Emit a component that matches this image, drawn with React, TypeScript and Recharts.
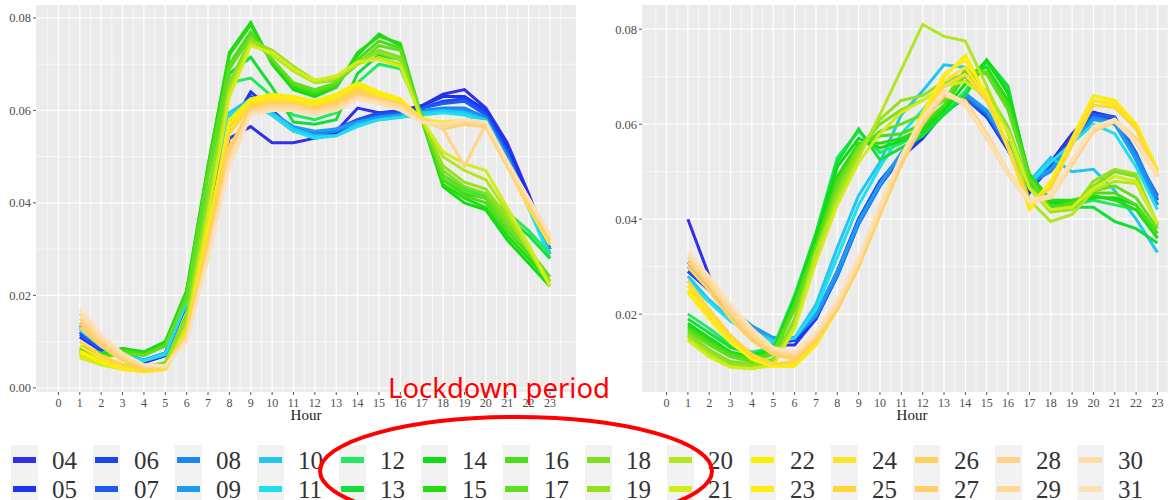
import React from 'react';
import { LineChart, Line, XAxis, YAxis, CartesianGrid } from 'recharts';

const DAYS = ['04','05','06','07','08','09','10','11','12','13','14','15','16','17','18','19','20','21','22','23','24','25','26','27','28','29','30','31'];
const COLORS = ['#3030e6','#1a34f0','#1a45f0','#1f5af0','#1e86f0','#1e9cf0','#22c6f0','#20def0','#22e862','#14de3a','#10dc12','#26dc10','#4cdc1c','#62de1e','#80e020','#94e21e','#b2e620','#d2ec1c','#f8f000','#ffec10','#ffe22c','#ffd838','#ffd060','#ffcf6e','#ffd488','#ffd894','#fddca8','#fde0b4'];
const HOURS = [1,2,3,4,5,6,7,8,9,10,11,12,13,14,15,16,17,18,19,20,21,22,23];
const HOUR_TICKS = [0,1,2,3,4,5,6,7,8,9,10,11,12,13,14,15,16,17,18,19,20,21,22,23];
const Y_TICKS_LEFT = [0, 0.02, 0.04, 0.06, 0.08];
const Y_TICKS_RIGHT = [0.02, 0.04, 0.06, 0.08];

// Left panel
const L04 = [0.011,0.008,0.007,0.0055,0.007,0.018,0.038,0.054,0.0565,0.053,0.053,0.054,0.0555,0.0605,0.0595,0.060,0.061,0.0635,0.0645,0.0605,0.053,0.042,0.030];
const L05 = [0.012,0.0085,0.007,0.0055,0.007,0.019,0.040,0.056,0.064,0.060,0.056,0.054,0.055,0.058,0.059,0.0595,0.061,0.063,0.063,0.060,0.052,0.041,0.030];
const L06 = [0.013,0.009,0.007,0.006,0.0075,0.019,0.041,0.058,0.063,0.059,0.0555,0.0545,0.0555,0.058,0.0595,0.0595,0.0605,0.062,0.0625,0.0595,0.051,0.040,0.029];
const L07 = [0.0115,0.0085,0.0068,0.0058,0.0072,0.0185,0.040,0.057,0.0625,0.0595,0.056,0.055,0.056,0.058,0.059,0.0595,0.0605,0.0615,0.062,0.059,0.051,0.040,0.030];
const L08 = [0.014,0.010,0.0075,0.006,0.0075,0.019,0.042,0.059,0.0615,0.059,0.056,0.055,0.0555,0.0575,0.0585,0.059,0.060,0.0605,0.0605,0.0585,0.050,0.040,0.030];
const L09 = [0.0135,0.0095,0.0072,0.006,0.0075,0.0185,0.041,0.058,0.062,0.0595,0.0565,0.0555,0.056,0.0575,0.0585,0.059,0.0595,0.060,0.060,0.058,0.050,0.040,0.029];
const L10 = [0.013,0.0095,0.0072,0.006,0.0075,0.019,0.042,0.0595,0.0625,0.0595,0.056,0.0545,0.0545,0.057,0.058,0.0585,0.0595,0.060,0.0595,0.058,0.049,0.039,0.029];
const L11 = [0.0125,0.009,0.007,0.0058,0.0072,0.0185,0.041,0.059,0.0615,0.059,0.0555,0.054,0.0545,0.0565,0.058,0.0585,0.059,0.0595,0.059,0.0575,0.049,0.039,0.028];
const L12 = [0.009,0.0075,0.0085,0.0075,0.0095,0.020,0.046,0.066,0.067,0.063,0.059,0.058,0.0595,0.066,0.070,0.069,0.059,0.046,0.043,0.0415,0.038,0.034,0.029];
const L13 = [0.0085,0.0072,0.0085,0.0075,0.0095,0.0205,0.047,0.068,0.0715,0.065,0.0575,0.057,0.058,0.068,0.072,0.071,0.058,0.045,0.042,0.041,0.037,0.033,0.028];
const L14 = [0.008,0.007,0.0085,0.0078,0.010,0.021,0.048,0.0725,0.079,0.070,0.0645,0.063,0.065,0.072,0.0765,0.074,0.058,0.0435,0.040,0.0385,0.032,0.027,0.022];
const L15 = [0.0082,0.007,0.0083,0.0075,0.0095,0.021,0.048,0.072,0.0785,0.0705,0.065,0.0635,0.065,0.0725,0.076,0.0745,0.0585,0.044,0.041,0.039,0.033,0.028,0.023];
const L16 = [0.0078,0.0068,0.008,0.0072,0.0092,0.020,0.047,0.070,0.077,0.071,0.0655,0.064,0.0655,0.071,0.075,0.0735,0.058,0.045,0.0415,0.040,0.034,0.029,0.023];
const L17 = [0.0075,0.0065,0.0075,0.007,0.009,0.0195,0.046,0.069,0.076,0.071,0.066,0.0645,0.066,0.070,0.074,0.073,0.0585,0.046,0.0425,0.041,0.035,0.030,0.024];
const L18 = [0.0075,0.006,0.005,0.0045,0.0055,0.016,0.042,0.066,0.0755,0.0725,0.069,0.066,0.0665,0.0705,0.073,0.0715,0.0585,0.047,0.0435,0.042,0.036,0.030,0.023];
const L19 = [0.007,0.0058,0.0048,0.0042,0.005,0.015,0.040,0.065,0.075,0.073,0.0695,0.0665,0.067,0.0705,0.0725,0.071,0.058,0.048,0.0445,0.043,0.037,0.030,0.023];
const L20 = [0.0068,0.0052,0.0042,0.0038,0.0045,0.0135,0.038,0.064,0.0745,0.072,0.0685,0.066,0.067,0.070,0.0715,0.070,0.058,0.050,0.047,0.045,0.038,0.030,0.022];
const L21 = [0.0065,0.005,0.004,0.0035,0.004,0.013,0.037,0.063,0.074,0.0725,0.069,0.0665,0.0675,0.0705,0.071,0.0695,0.058,0.051,0.0485,0.047,0.039,0.031,0.022];
const L22 = [0.0075,0.0055,0.004,0.0035,0.004,0.012,0.034,0.058,0.0625,0.0635,0.063,0.062,0.0635,0.066,0.064,0.0625,0.058,0.0575,0.058,0.057,0.048,0.040,0.031];
const L23 = [0.008,0.0058,0.0042,0.0035,0.004,0.0115,0.033,0.057,0.062,0.063,0.0625,0.0615,0.063,0.0655,0.0635,0.062,0.0585,0.057,0.0575,0.0565,0.048,0.040,0.031];
const L24 = [0.009,0.0065,0.0045,0.0035,0.0042,0.012,0.033,0.056,0.0615,0.0625,0.062,0.061,0.0625,0.065,0.063,0.0615,0.058,0.057,0.0575,0.057,0.048,0.039,0.031];
const L25 = [0.010,0.007,0.005,0.0038,0.0042,0.0115,0.032,0.055,0.061,0.062,0.0615,0.0605,0.062,0.0645,0.0625,0.061,0.0575,0.0565,0.057,0.0565,0.048,0.040,0.032];
const L26 = [0.013,0.009,0.006,0.0042,0.0045,0.011,0.030,0.052,0.0605,0.0615,0.0615,0.0605,0.0615,0.064,0.0625,0.061,0.058,0.0565,0.0575,0.057,0.048,0.040,0.032];
const L27 = [0.014,0.0095,0.0065,0.0045,0.0045,0.011,0.030,0.051,0.060,0.061,0.061,0.060,0.061,0.0635,0.0625,0.0615,0.058,0.056,0.057,0.0565,0.048,0.040,0.032];
const L28 = [0.015,0.010,0.0068,0.0045,0.0045,0.0105,0.029,0.050,0.060,0.061,0.061,0.060,0.061,0.063,0.062,0.061,0.058,0.056,0.048,0.057,0.048,0.040,0.033];
const L29 = [0.016,0.0105,0.007,0.0048,0.0045,0.0105,0.029,0.049,0.0595,0.0605,0.0605,0.0595,0.0605,0.063,0.062,0.061,0.0575,0.0565,0.0575,0.057,0.049,0.041,0.033];
const L30 = [0.016,0.011,0.0072,0.005,0.0048,0.0105,0.028,0.049,0.0595,0.060,0.060,0.0595,0.060,0.0625,0.0615,0.0605,0.0575,0.057,0.058,0.0575,0.049,0.041,0.033];
const L31 = [0.017,0.0115,0.0075,0.005,0.0048,0.010,0.028,0.048,0.059,0.060,0.060,0.059,0.060,0.0625,0.0615,0.060,0.0575,0.057,0.058,0.0575,0.049,0.041,0.033];

// Right panel
const R04 = [0.040,0.028,0.020,0.016,0.0135,0.0135,0.019,0.029,0.040,0.048,0.053,0.057,0.0625,0.066,0.0625,0.055,0.0455,0.052,0.058,0.0625,0.061,0.053,0.044];
const R05 = [0.031,0.026,0.021,0.017,0.014,0.0145,0.019,0.028,0.039,0.047,0.053,0.0575,0.0625,0.0655,0.0615,0.0545,0.046,0.051,0.057,0.0625,0.0615,0.053,0.045];
const R06 = [0.029,0.025,0.0205,0.0165,0.014,0.0145,0.0195,0.029,0.040,0.048,0.0535,0.058,0.063,0.066,0.062,0.055,0.047,0.051,0.0565,0.0615,0.061,0.0525,0.043];
const R07 = [0.030,0.0255,0.021,0.017,0.0145,0.015,0.020,0.029,0.040,0.0475,0.053,0.058,0.0625,0.0655,0.062,0.055,0.047,0.0505,0.0565,0.062,0.0615,0.054,0.044];
const R08 = [0.031,0.026,0.021,0.0175,0.015,0.015,0.0195,0.028,0.039,0.047,0.0535,0.0585,0.063,0.066,0.0625,0.0555,0.0475,0.050,0.056,0.0615,0.0605,0.0535,0.0445];
const R09 = [0.030,0.0255,0.021,0.0175,0.015,0.015,0.020,0.029,0.0395,0.0475,0.054,0.059,0.0635,0.0665,0.063,0.056,0.048,0.0505,0.056,0.061,0.060,0.0525,0.043];
const R10 = [0.028,0.023,0.019,0.0165,0.0145,0.015,0.022,0.034,0.045,0.052,0.062,0.067,0.0725,0.072,0.066,0.055,0.048,0.053,0.050,0.0505,0.046,0.040,0.033];
const R11 = [0.027,0.0225,0.0185,0.016,0.014,0.015,0.021,0.032,0.043,0.051,0.058,0.063,0.0685,0.070,0.065,0.055,0.0475,0.052,0.056,0.060,0.058,0.051,0.042];
const R12 = [0.020,0.017,0.0135,0.012,0.013,0.024,0.037,0.053,0.0585,0.054,0.056,0.058,0.0625,0.067,0.073,0.067,0.049,0.043,0.043,0.044,0.043,0.042,0.036];
const R13 = [0.019,0.016,0.013,0.0115,0.0125,0.0235,0.037,0.052,0.059,0.0525,0.055,0.0575,0.062,0.066,0.0735,0.068,0.048,0.0425,0.0425,0.0425,0.0395,0.038,0.035];
const R14 = [0.018,0.015,0.012,0.011,0.0125,0.023,0.036,0.051,0.057,0.055,0.0565,0.0585,0.063,0.0685,0.0735,0.0665,0.049,0.0435,0.0435,0.0445,0.0445,0.043,0.037];
const R15 = [0.0175,0.0145,0.012,0.011,0.012,0.0225,0.035,0.049,0.056,0.056,0.057,0.059,0.0635,0.0705,0.072,0.065,0.0495,0.044,0.044,0.045,0.044,0.042,0.036];
const R16 = [0.017,0.014,0.0115,0.0105,0.012,0.022,0.0345,0.048,0.0555,0.0575,0.058,0.060,0.064,0.071,0.071,0.064,0.049,0.0425,0.0435,0.0455,0.0455,0.043,0.037];
const R17 = [0.0165,0.0135,0.011,0.010,0.0115,0.021,0.034,0.047,0.055,0.0585,0.060,0.062,0.065,0.0715,0.0705,0.063,0.0485,0.042,0.043,0.046,0.047,0.0445,0.038];
const R18 = [0.016,0.0125,0.010,0.0095,0.0105,0.019,0.033,0.046,0.055,0.060,0.063,0.065,0.068,0.070,0.067,0.0595,0.047,0.042,0.0425,0.047,0.050,0.049,0.039];
const R19 = [0.0155,0.012,0.0095,0.009,0.010,0.018,0.032,0.045,0.054,0.061,0.065,0.066,0.069,0.0705,0.066,0.059,0.0465,0.0415,0.042,0.048,0.0505,0.0495,0.0385];
const R20 = [0.015,0.0115,0.009,0.0085,0.0095,0.0175,0.033,0.044,0.053,0.062,0.0715,0.081,0.0785,0.0775,0.068,0.058,0.044,0.0395,0.041,0.046,0.048,0.0475,0.039];
const R21 = [0.0145,0.011,0.0088,0.0085,0.0092,0.017,0.031,0.043,0.052,0.058,0.0625,0.065,0.068,0.069,0.0655,0.0585,0.0465,0.042,0.0425,0.0465,0.049,0.048,0.039];
const R22 = [0.025,0.0195,0.0145,0.0105,0.009,0.009,0.0135,0.021,0.030,0.0415,0.0525,0.0625,0.070,0.0745,0.066,0.055,0.0425,0.048,0.057,0.066,0.065,0.060,0.0505];
const R23 = [0.0245,0.019,0.014,0.0105,0.009,0.0095,0.014,0.0215,0.0305,0.0415,0.052,0.062,0.0705,0.0735,0.0665,0.0555,0.042,0.0475,0.0565,0.065,0.064,0.059,0.049];
const R24 = [0.026,0.020,0.015,0.011,0.0095,0.0095,0.014,0.021,0.030,0.041,0.052,0.0615,0.069,0.072,0.0655,0.055,0.043,0.047,0.056,0.065,0.0645,0.0595,0.0495];
const R25 = [0.027,0.021,0.0155,0.0115,0.0095,0.010,0.0145,0.0215,0.0305,0.041,0.0515,0.061,0.068,0.0705,0.065,0.055,0.0435,0.0465,0.0555,0.064,0.0635,0.059,0.049];
const R26 = [0.030,0.025,0.019,0.0145,0.0115,0.0105,0.0145,0.021,0.030,0.041,0.0515,0.060,0.066,0.065,0.058,0.050,0.044,0.045,0.052,0.059,0.061,0.057,0.050];
const R27 = [0.031,0.026,0.020,0.015,0.012,0.011,0.015,0.0215,0.0305,0.0415,0.052,0.0605,0.066,0.0645,0.0575,0.050,0.044,0.0445,0.0515,0.0585,0.0605,0.0565,0.0495];
const R28 = [0.032,0.0265,0.0205,0.0155,0.0122,0.0112,0.0155,0.022,0.031,0.042,0.0525,0.061,0.0665,0.064,0.057,0.0495,0.0435,0.0445,0.052,0.059,0.061,0.056,0.049];
const R29 = [0.032,0.027,0.021,0.016,0.0125,0.0115,0.0155,0.022,0.031,0.042,0.053,0.0615,0.067,0.0645,0.0575,0.050,0.044,0.045,0.0525,0.0595,0.061,0.0565,0.0495];
const R30 = [0.033,0.0275,0.0215,0.0165,0.0128,0.0118,0.016,0.0225,0.0315,0.0425,0.053,0.061,0.0665,0.064,0.057,0.0495,0.0435,0.0445,0.052,0.059,0.0605,0.056,0.049];
const R31 = [0.033,0.028,0.022,0.017,0.013,0.012,0.016,0.023,0.032,0.043,0.0535,0.0615,0.067,0.0645,0.0575,0.050,0.044,0.045,0.0525,0.0595,0.061,0.0565,0.0495];

const LEFT_SERIES = [L04,L05,L06,L07,L08,L09,L10,L11,L12,L13,L14,L15,L16,L17,L18,L19,L20,L21,L22,L23,L24,L25,L26,L27,L28,L29,L30,L31];
const RIGHT_SERIES = [R04,R05,R06,R07,R08,R09,R10,R11,R12,R13,R14,R15,R16,R17,R18,R19,R20,R21,R22,R23,R24,R25,R26,R27,R28,R29,R30,R31];

const buildRows = (series: number[][]) =>
  HOURS.map((h, i) => {
    const row: Record<string, number> = { hour: h };
    DAYS.forEach((d, k) => {
      row['d' + d] = series[k][i];
    });
    return row;
  });

const LEFT_ROWS = buildRows(LEFT_SERIES);
const RIGHT_ROWS = buildRows(RIGHT_SERIES);

const SERIF = '"Liberation Serif", "DejaVu Serif", serif';

type PanelProps = {
  rows: Record<string, number>[];
  yAxisWidth: number;
  marginRight: number;
  xDomain: [number, number];
  yDomain: [number, number];
  yTicks: number[];
};

function Panel({ rows, yAxisWidth, marginRight, xDomain, yDomain, yTicks }: PanelProps) {
  const xMinor = [-0.5, ...HOUR_TICKS.map((h) => h + 0.5)].filter((v) => v > xDomain[0] && v < xDomain[1]);
  const yMinor = [...yTicks.map((v) => v - 0.01), yTicks[yTicks.length - 1] + 0.01].filter(
    (v) => v > yDomain[0] && v < yDomain[1]
  );
  return (
    <LineChart width={600} height={430} data={rows} margin={{ top: 5, right: marginRight, left: 0, bottom: 0 }}>
      <CartesianGrid fill="#ebebeb" stroke="#ffffff" strokeWidth={0.6} horizontalValues={yMinor} verticalValues={xMinor} />
      <CartesianGrid stroke="#ffffff" strokeWidth={1.2} horizontalValues={yTicks} verticalValues={HOUR_TICKS} />
      <XAxis
        type="number"
        dataKey="hour"
        domain={xDomain}
        allowDataOverflow
        ticks={HOUR_TICKS}
        interval={0}
        height={38}
        axisLine={false}
        tickLine={{ stroke: '#555555' }}
        tickSize={3}
        tickMargin={3}
        tick={{ fontFamily: SERIF, fontSize: 12, fill: '#4d4d4d' }}
        label={{ value: 'Hour', position: 'insideBottom', offset: 10, fill: '#1a1a1a', fontSize: 15, fontFamily: SERIF }}
      />
      <YAxis
        type="number"
        domain={yDomain}
        allowDataOverflow
        ticks={yTicks}
        interval={0}
        width={yAxisWidth}
        axisLine={false}
        tickLine={{ stroke: '#555555' }}
        tickSize={3}
        tickMargin={2}
        tickFormatter={(v: number) => v.toFixed(2)}
        tick={{ fontFamily: SERIF, fontSize: 12.5, fill: '#4d4d4d' }}
      />
      {DAYS.map((d, k) => (
        <Line
          key={d}
          type="linear"
          dataKey={'d' + d}
          stroke={COLORS[k]}
          strokeWidth={3}
          dot={false}
          activeDot={false}
          isAnimationActive={false}
        />
      ))}
    </LineChart>
  );
}

function DayLegend() {
  const cols = Array.from({ length: DAYS.length / 2 }, (_, i) => i);
  const rowY = [460, 489];
  return (
    <svg width={1168} height={500} style={{ position: 'absolute', left: 0, top: 0 }}>
      {cols.map((i) => (
        <g key={i}>
          <rect x={11 + 82 * i} y={445} width={27} height={55} fill="#f2f2f2" />
          {[0, 1].map((r) => {
            const k = 2 * i + r;
            return (
              <g key={r}>
                <rect x={13 + 82 * i} y={rowY[r] - 3} width={23} height={6} fill={COLORS[k]} />
                <text
                  x={52 + 82 * i}
                  y={rowY[r]}
                  dominantBaseline="central"
                  fontFamily={SERIF}
                  fontSize={25}
                  fill="#333333"
                >
                  {DAYS[k]}
                </text>
              </g>
            );
          })}
        </g>
      ))}
    </svg>
  );
}

function Annotation() {
  return (
    <svg width={1168} height={500} style={{ position: 'absolute', left: 0, top: 0, pointerEvents: 'none' }}>
      <text
        x={388}
        y={398}
        fontFamily='"Noto Sans", "Open Sans", sans-serif'
        fontSize={27}
        fill="#ff0000"
        textLength={222}
        lengthAdjust="spacingAndGlyphs"
      >
        Lockdown period
      </text>
      <ellipse cx={516} cy={471} rx={196} ry={54} fill="none" stroke="#ff0000" strokeWidth={4} />
    </svg>
  );
}

export default function App() {
  return (
    <div style={{ position: 'absolute', left: 0, top: 0, width: 1168, height: 500, overflow: 'hidden', background: '#ffffff' }}>
      <DayLegend />
      <div style={{ position: 'absolute', left: 0, top: 0 }}>
        <Panel
          rows={LEFT_ROWS}
          yAxisWidth={36}
          marginRight={24}
          xDomain={[-1.05, 24.22]}
          yDomain={[-0.0009, 0.0828]}
          yTicks={Y_TICKS_LEFT}
        />
      </div>
      <div style={{ position: 'absolute', left: 600, top: 0 }}>
        <Panel
          rows={RIGHT_ROWS}
          yAxisWidth={42}
          marginRight={18}
          xDomain={[-1.15, 24.15]}
          yDomain={[0.0036, 0.0851]}
          yTicks={Y_TICKS_RIGHT}
        />
      </div>
      <Annotation />
    </div>
  );
}
